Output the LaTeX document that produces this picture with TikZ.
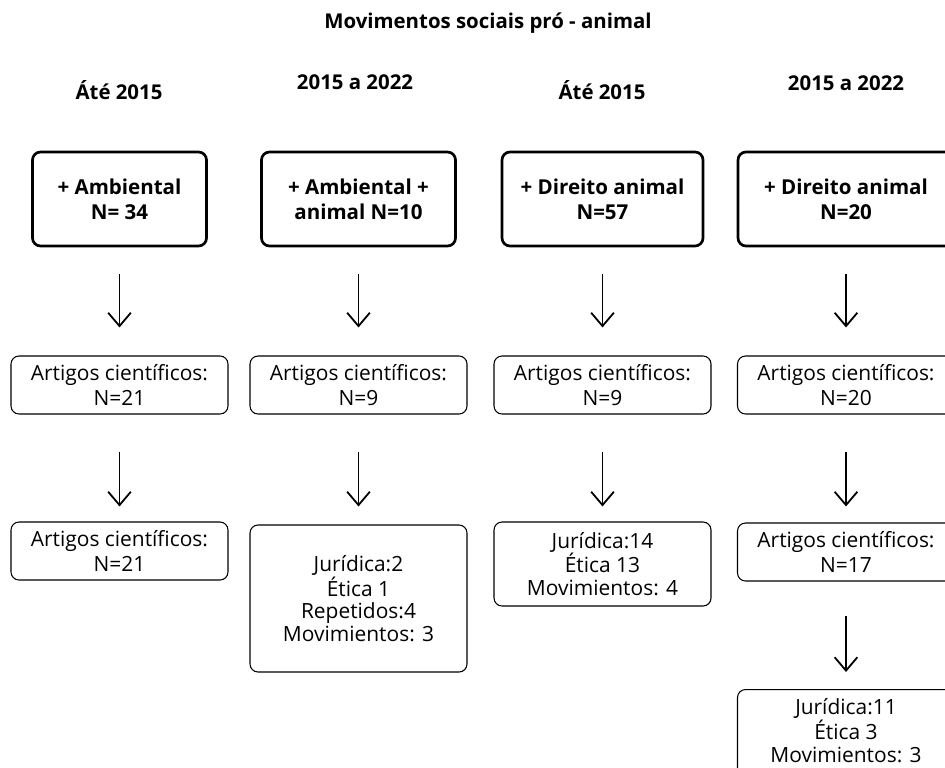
\documentclass[tikz,border=0pt]{standalone}
\usepackage{fontspec}
\setmainfont{Open Sans}
\usetikzlibrary{arrows.meta, positioning}

\begin{document}
\begin{tikzpicture}[
  x=0.75pt, y=-0.75pt,
  topbox/.style = {draw, line width=2pt, rounded corners=6pt, align=center, inner sep=0pt,
    minimum height=70.5pt, font=\bfseries\fontsize{15.4}{18.5}\selectfont},
  infobox/.style = {draw, line width=0.8pt, rounded corners=6pt, align=center, inner sep=0pt,
    minimum width=162.75pt, minimum height=43.5pt, font=\fontsize{15.7}{17}\selectfont},
  header/.style = {font=\bfseries\fontsize{15.3}{18}\selectfont},
  arrow/.style = {line width=1.35pt, -{Straight Barb[length=10pt, width=17pt]}}
]

  \useasboundingbox (0,0) rectangle (945,767);
  \clip (0,0) rectangle (945,767);

  % Title
  \node[header] (title) at (488,23) {Movimentos sociais pró - animal};

  % Period headers
  \node[header] (per1) at (119,90) {Áté 2015};
  \node[header] (per2) at (355,82) {2015 a 2022};
  \node[header] (per3) at (602,90) {Áté 2015};
  \node[header] (per4) at (846,83) {2015 a 2022};

  % Groups
  \node[topbox, minimum width=130.5pt] (amb) at (119.5,199) {+ Ambiental\\N= 34};
  \node[topbox, minimum width=145.5pt] (ambani) at (358.5,199) {+ Ambiental +\\animal N=10};
  \node[topbox, minimum width=150.75pt] (dir1) at (602.5,199) {+ Direito animal\\N=57};
  \node[topbox, minimum width=162pt] (dir2) at (846,199) {+ Direito animal\\N=20};

  % Articles found
  \node[infobox] (art1) at (119.5,385) {Artigos científicos:\\[2pt]N=21};
  \node[infobox] (art2) at (358.5,385) {Artigos científicos:\\[2pt]N=9};
  \node[infobox] (art3) at (602.5,385) {Artigos científicos:\\[2pt]N=9};
  \node[infobox] (art4) at (846,385) {Artigos científicos:\\[2pt]N=20};

  % Results
  \node[infobox] (res1) at (119.5,551) {Artigos científicos:\\[2pt]N=21};
  \node[infobox, minimum height=110.25pt] (res2) at (358.5,598.5) {Jurídica:2\\Ética 1\\Repetidos:4\\Movimientos: 3};
  \node[infobox, minimum height=63pt] (res3) at (602.5,564) {Jurídica:14\\Ética 13\\Movimientos: 4};
  \node[infobox] (res4) at (846,552) {Artigos científicos:\\[2pt]N=17};

  % Final split (runs past the lower edge)
  \node[infobox, minimum height=0pt, inner ysep=7pt, text depth=16pt, anchor=north] (fin4) at (846,689) {Jurídica:11\\Ética 3\\Movimientos: 3};

  % Arrows: groups -> articles
  \foreach \a/\b in {amb/art1, ambani/art2, dir1/art3, dir2/art4}
    \draw[arrow, shorten <=20.25pt, shorten >=21pt] (\a) -- (\b);

  % Arrows: articles -> results
  \draw[arrow, shorten <=27.75pt, shorten >=11.25pt] (art1) -- (res1);
  \draw[arrow, shorten <=27.75pt, shorten >=13.5pt] (art2) -- (res2);
  \draw[arrow, shorten <=27.75pt, shorten >=11.25pt] (art3) -- (res3);
  \draw[arrow, shorten <=27.75pt, shorten >=12pt] (art4) -- (res4);

  % Arrow: results -> final
  \draw[arrow, shorten <=25.5pt, shorten >=12.75pt] (res4.south) -- (fin4.north);

\end{tikzpicture}
\end{document}
